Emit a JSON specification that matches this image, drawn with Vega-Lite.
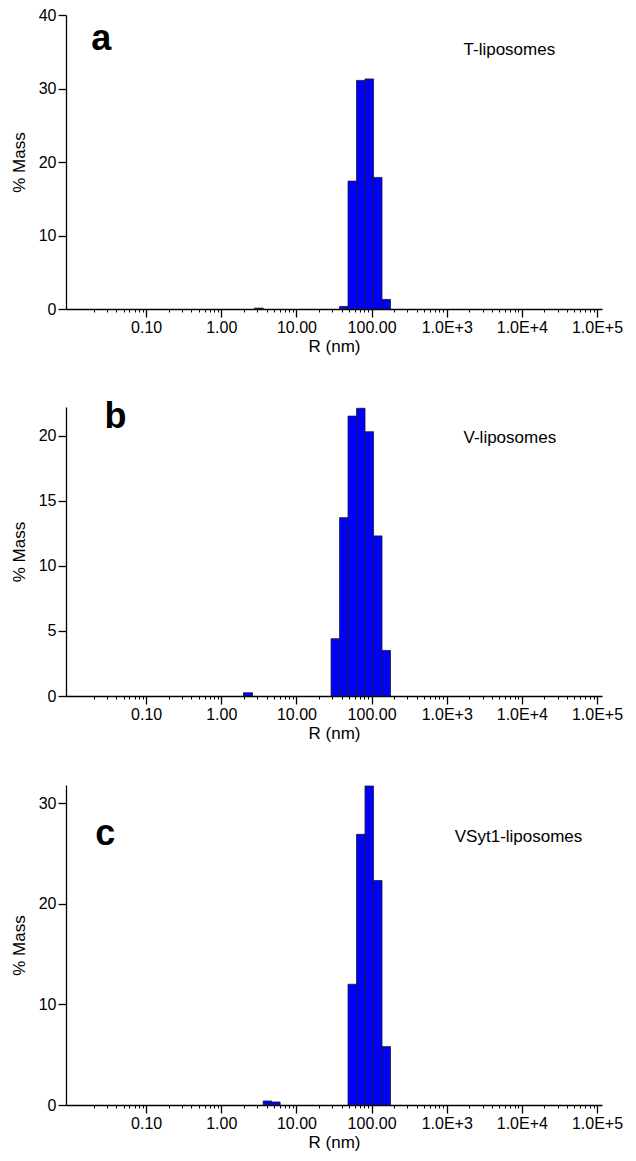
{
  "$schema": "https://vega.github.io/schema/vega-lite/v6.json",
  "padding": {"left": 10, "top": 7, "right": 5, "bottom": 5},
  "background": "white",
  "config": {
    "font": "Liberation Sans",
    "view": {"stroke": null},
    "axis": {
      "domainColor": "#000", "tickColor": "#000", "labelColor": "#000", "titleColor": "#000",
      "labelFont": "Liberation Sans", "titleFont": "Liberation Sans",
      "labelFontSize": 16, "titleFontSize": 17, "titleFontWeight": "normal",
      "grid": false, "domainWidth": 1.3, "tickWidth": 1.3, "labelFlush": false, "labelOverlap": false
    }
  },
  "datasets": {
    "hist": [
      {"panel": "a", "lo": 2.78, "hi": 3.61, "mass": 0.12},
      {"panel": "a", "lo": 37.5, "hi": 48.6, "mass": 0.35},
      {"panel": "a", "lo": 48.6, "hi": 63.1, "mass": 17.4},
      {"panel": "a", "lo": 63.1, "hi": 81.8, "mass": 31.1},
      {"panel": "a", "lo": 81.8, "hi": 106.2, "mass": 31.3},
      {"panel": "a", "lo": 106.2, "hi": 137.7, "mass": 17.9},
      {"panel": "a", "lo": 137.7, "hi": 178.6, "mass": 1.3},
      {"panel": "b", "lo": 1.97, "hi": 2.61, "mass": 0.25},
      {"panel": "b", "lo": 28.9, "hi": 37.5, "mass": 4.4},
      {"panel": "b", "lo": 37.5, "hi": 48.6, "mass": 13.7},
      {"panel": "b", "lo": 48.6, "hi": 63.1, "mass": 21.5},
      {"panel": "b", "lo": 63.1, "hi": 81.8, "mass": 22.1},
      {"panel": "b", "lo": 81.8, "hi": 106.2, "mass": 20.3},
      {"panel": "b", "lo": 106.2, "hi": 137.7, "mass": 12.3},
      {"panel": "b", "lo": 137.7, "hi": 178.6, "mass": 3.5},
      {"panel": "c", "lo": 3.61, "hi": 4.68, "mass": 0.4},
      {"panel": "c", "lo": 4.68, "hi": 6.07, "mass": 0.3},
      {"panel": "c", "lo": 48.6, "hi": 63.1, "mass": 12.0},
      {"panel": "c", "lo": 63.1, "hi": 81.8, "mass": 26.9},
      {"panel": "c", "lo": 81.8, "hi": 106.2, "mass": 31.7},
      {"panel": "c", "lo": 106.2, "hi": 137.7, "mass": 22.3},
      {"panel": "c", "lo": 137.7, "hi": 178.6, "mass": 5.8}
    ],
    "notes": [
      {"panel": "a", "kind": "letter", "text": "a", "x": 0.0186, "y": 35.2},
      {"panel": "a", "kind": "label", "text": "T-liposomes", "x": 1675, "y": 34.6},
      {"panel": "b", "kind": "letter", "text": "b", "x": 0.028, "y": 20.6},
      {"panel": "b", "kind": "label", "text": "V-liposomes", "x": 1675, "y": 19.4},
      {"panel": "c", "kind": "letter", "text": "c", "x": 0.021, "y": 25.8},
      {"panel": "c", "kind": "label", "text": "VSyt1-liposomes", "x": 1280, "y": 26.1}
    ]
  },
  "spacing": 44,
  "vconcat": [
    {
      "width": 536, "height": 294,
      "resolve": {"axis": {"x": "independent"}},
      "layer": [
        {
          "data": {"name": "hist"},
          "transform": [{"filter": "datum.panel === 'a'"}],
          "mark": {"type": "bar", "orient": "vertical", "fill": "#0000ff", "stroke": "#1a1a1a", "strokeWidth": 0.8},
          "encoding": {
            "x": {"field": "lo", "type": "quantitative", "scale": {"type": "log", "domain": [0.01, 100000], "nice": false},
              "axis": {"values": [0.1, 1, 10, 100, 1000, 10000, 100000], "labelExpr": "datum.value < 999 ? format(datum.value, '.2f') : '1.0E+' + format(round(log(datum.value) / LN10), 'd')", "title": "R (nm)", "tickSize": 8, "labelPadding": 2, "titlePadding": 3}},
            "x2": {"field": "hi"},
            "y": {"field": "mass", "type": "quantitative", "scale": {"domain": [0, 40], "nice": false},
              "axis": {"values": [0, 10, 20, 30, 40], "title": "% Mass", "tickSize": 8, "labelPadding": 2, "titlePadding": 10}},
            "y2": {"datum": 0}
          }
        },
        {
          "data": {"name": "hist"},
          "transform": [{"filter": "datum.panel === 'a'"}],
          "mark": {"type": "point", "opacity": 0},
          "encoding": {
            "x": {"field": "lo", "type": "quantitative",
              "axis": {"orient": "bottom", "values": [0.02,0.03,0.04,0.05,0.06,0.07,0.08,0.09,0.2,0.3,0.4,0.5,0.6,0.7,0.8,0.9,2,3,4,5,6,7,8,9,20,30,40,50,60,70,80,90,200,300,400,500,600,700,800,900,2000,3000,4000,5000,6000,7000,8000,9000,20000,30000,40000,50000,60000,70000,80000,90000], "labels": false, "domain": false, "tickSize": 3, "tickWidth": 1, "title": null}}
          }
        },
        {
          "data": {"name": "notes"},
          "transform": [{"filter": "datum.panel === 'a' && datum.kind === 'letter'"}],
          "mark": {"type": "text", "align": "left", "baseline": "alphabetic", "fontSize": 36, "fontWeight": "bold", "font": "Liberation Sans", "color": "#000"},
          "encoding": {"x": {"field": "x", "type": "quantitative", "axis": null}, "y": {"field": "y", "type": "quantitative"}, "text": {"field": "text"}}
        },
        {
          "data": {"name": "notes"},
          "transform": [{"filter": "datum.panel === 'a' && datum.kind === 'label'"}],
          "mark": {"type": "text", "align": "left", "baseline": "alphabetic", "fontSize": 17, "font": "Liberation Sans", "color": "#000"},
          "encoding": {"x": {"field": "x", "type": "quantitative", "axis": null}, "y": {"field": "y", "type": "quantitative"}, "text": {"field": "text"}}
        }
      ]
    },
    {
      "width": 536, "height": 289,
      "resolve": {"axis": {"x": "independent"}},
      "layer": [
        {
          "data": {"name": "hist"},
          "transform": [{"filter": "datum.panel === 'b'"}],
          "mark": {"type": "bar", "orient": "vertical", "fill": "#0000ff", "stroke": "#1a1a1a", "strokeWidth": 0.8},
          "encoding": {
            "x": {"field": "lo", "type": "quantitative", "scale": {"type": "log", "domain": [0.01, 100000], "nice": false},
              "axis": {"values": [0.1, 1, 10, 100, 1000, 10000, 100000], "labelExpr": "datum.value < 999 ? format(datum.value, '.2f') : '1.0E+' + format(round(log(datum.value) / LN10), 'd')", "title": "R (nm)", "tickSize": 8, "labelPadding": 2, "titlePadding": 3}},
            "x2": {"field": "hi"},
            "y": {"field": "mass", "type": "quantitative", "scale": {"domain": [0, 22.2], "nice": false},
              "axis": {"values": [0, 5, 10, 15, 20], "title": "% Mass", "tickSize": 8, "labelPadding": 2, "titlePadding": 10}},
            "y2": {"datum": 0}
          }
        },
        {
          "data": {"name": "hist"},
          "transform": [{"filter": "datum.panel === 'b'"}],
          "mark": {"type": "point", "opacity": 0},
          "encoding": {
            "x": {"field": "lo", "type": "quantitative",
              "axis": {"orient": "bottom", "values": [0.02,0.03,0.04,0.05,0.06,0.07,0.08,0.09,0.2,0.3,0.4,0.5,0.6,0.7,0.8,0.9,2,3,4,5,6,7,8,9,20,30,40,50,60,70,80,90,200,300,400,500,600,700,800,900,2000,3000,4000,5000,6000,7000,8000,9000,20000,30000,40000,50000,60000,70000,80000,90000], "labels": false, "domain": false, "tickSize": 3, "tickWidth": 1, "title": null}}
          }
        },
        {
          "data": {"name": "notes"},
          "transform": [{"filter": "datum.panel === 'b' && datum.kind === 'letter'"}],
          "mark": {"type": "text", "align": "left", "baseline": "alphabetic", "fontSize": 36, "fontWeight": "bold", "font": "Liberation Sans", "color": "#000"},
          "encoding": {"x": {"field": "x", "type": "quantitative", "axis": null}, "y": {"field": "y", "type": "quantitative"}, "text": {"field": "text"}}
        },
        {
          "data": {"name": "notes"},
          "transform": [{"filter": "datum.panel === 'b' && datum.kind === 'label'"}],
          "mark": {"type": "text", "align": "left", "baseline": "alphabetic", "fontSize": 17, "font": "Liberation Sans", "color": "#000"},
          "encoding": {"x": {"field": "x", "type": "quantitative", "axis": null}, "y": {"field": "y", "type": "quantitative"}, "text": {"field": "text"}}
        }
      ]
    },
    {
      "width": 536, "height": 320,
      "resolve": {"axis": {"x": "independent"}},
      "layer": [
        {
          "data": {"name": "hist"},
          "transform": [{"filter": "datum.panel === 'c'"}],
          "mark": {"type": "bar", "orient": "vertical", "fill": "#0000ff", "stroke": "#1a1a1a", "strokeWidth": 0.8},
          "encoding": {
            "x": {"field": "lo", "type": "quantitative", "scale": {"type": "log", "domain": [0.01, 100000], "nice": false},
              "axis": {"values": [0.1, 1, 10, 100, 1000, 10000, 100000], "labelExpr": "datum.value < 999 ? format(datum.value, '.2f') : '1.0E+' + format(round(log(datum.value) / LN10), 'd')", "title": "R (nm)", "tickSize": 8, "labelPadding": 2, "titlePadding": 3}},
            "x2": {"field": "hi"},
            "y": {"field": "mass", "type": "quantitative", "scale": {"domain": [0, 31.8], "nice": false},
              "axis": {"values": [0, 10, 20, 30], "title": "% Mass", "tickSize": 8, "labelPadding": 2, "titlePadding": 10}},
            "y2": {"datum": 0}
          }
        },
        {
          "data": {"name": "hist"},
          "transform": [{"filter": "datum.panel === 'c'"}],
          "mark": {"type": "point", "opacity": 0},
          "encoding": {
            "x": {"field": "lo", "type": "quantitative",
              "axis": {"orient": "bottom", "values": [0.02,0.03,0.04,0.05,0.06,0.07,0.08,0.09,0.2,0.3,0.4,0.5,0.6,0.7,0.8,0.9,2,3,4,5,6,7,8,9,20,30,40,50,60,70,80,90,200,300,400,500,600,700,800,900,2000,3000,4000,5000,6000,7000,8000,9000,20000,30000,40000,50000,60000,70000,80000,90000], "labels": false, "domain": false, "tickSize": 3, "tickWidth": 1, "title": null}}
          }
        },
        {
          "data": {"name": "notes"},
          "transform": [{"filter": "datum.panel === 'c' && datum.kind === 'letter'"}],
          "mark": {"type": "text", "align": "left", "baseline": "alphabetic", "fontSize": 36, "fontWeight": "bold", "font": "Liberation Sans", "color": "#000"},
          "encoding": {"x": {"field": "x", "type": "quantitative", "axis": null}, "y": {"field": "y", "type": "quantitative"}, "text": {"field": "text"}}
        },
        {
          "data": {"name": "notes"},
          "transform": [{"filter": "datum.panel === 'c' && datum.kind === 'label'"}],
          "mark": {"type": "text", "align": "left", "baseline": "alphabetic", "fontSize": 17, "font": "Liberation Sans", "color": "#000"},
          "encoding": {"x": {"field": "x", "type": "quantitative", "axis": null}, "y": {"field": "y", "type": "quantitative"}, "text": {"field": "text"}}
        }
      ]
    }
  ]
}
